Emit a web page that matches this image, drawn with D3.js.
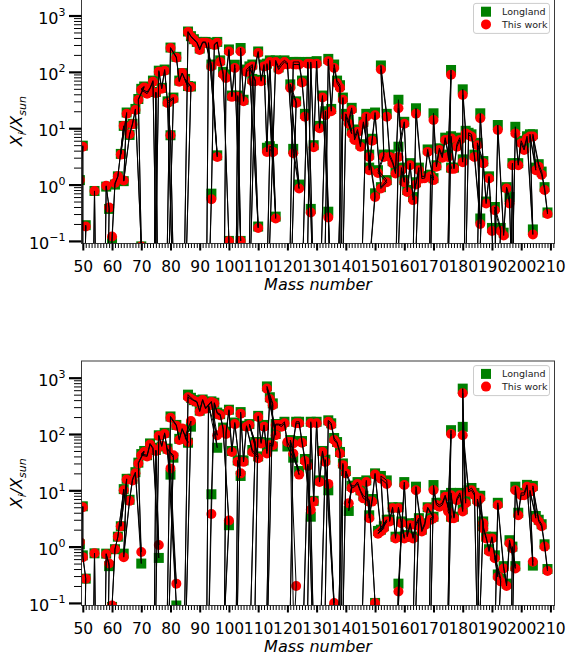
<!DOCTYPE html>
<html><head><meta charset="utf-8">
<script src="https://cdn.jsdelivr.net/npm/d3@7"></script>
<style>html,body{margin:0;padding:0;background:#fff;} svg{display:block;font-family:"DejaVu Sans",sans-serif;}</style>
</head><body><svg id="chart" width="566" height="657"></svg>
<script>
// B marks a value far below the plotted range (drawn off-axis, clipped)
const B = 1e-4;
const elements = ["Ti","V","Cr","Mn","Fe","Co","Ni","Cu","Zn","Ga","Ge","As","Se","Br","Kr","Rb","Sr","Y","Zr","Nb","Mo","Ru","Rh","Pd","Ag","Cd","In","Sn","Sb","Te","I","Xe","Cs","Ba","La","Ce","Pr","Nd","Sm","Eu","Gd","Tb","Dy","Ho","Er","Tm","Yb","Lu","Hf","Ta","W","Re","Os","Ir","Pt","Au","Hg","Tl","Pb","Bi"];
const massNumbers = [[49,50],[50,51],[50,52,53,54],[55],[54,56,57,58],[59],[58,60,61,62,64],[63,65],[64,66,67,68,70],[69,71],[70,72,73,74,76],[75],[74,76,77,78,80,82],[79,81],[78,80,82,83,84,86],[85,87],[84,86,87,88],[89],[90,91,92,94,96],[93],[92,94,95,96,97,98,100],[96,98,99,100,101,102,104],[103],[102,104,105,106,108,110],[107,109],[106,108,110,111,112,113,114,116],[113,115],[112,114,115,116,117,118,119,120,122,124],[121,123],[120,122,123,124,125,126,128,130],[127],[124,126,128,129,130,131,132,134,136],[133],[130,132,134,135,136,137,138],[138,139],[136,138,140,142],[141],[142,143,144,145,146,148,150],[144,147,148,149,150,152,154],[151,153],[152,154,155,156,157,158,160],[159],[156,158,160,161,162,163,164],[165],[162,164,166,167,168,170],[169],[168,170,171,172,173,174,176],[175,176],[174,176,177,178,179,180],[180,181],[180,182,183,184,186],[185,187],[184,186,187,188,189,190,192],[191,193],[190,192,194,195,196,198],[197],[196,198,199,200,201,202,204],[203,205],[204,206,207,208],[209]];
const upperThisWork = [[1.2,4.7],[B,0.18],[B,B,B,0.77],[B],[B,B,B,0.95],[0.39],[B,0.12,1.07,1.4,11],[3.4,18],[1.18,7.8,11.8,21,0.08],[32,53],[48,41,50,67,B],[42],[B,100,50,105,7.5,B],[28,33],[B,265,178,67,95,54],[72,54],[B,510,420,370],[330],[245,330,330,125,3.1],[320],[B,0.55,300,330,150,90,0.1],[B,B,78,230,36,117,0.1],[36],[B,230,30,100,125,0.17],[117,68],[B,68,216,68,125,3.8,150,0.25],[130,3.8],[B,4.2,3.8,150,110,130,150,135,3.6,0.85],[52,28],[B,135,135,135,65,16,0.32,B],[140],[B,B,140,4.6,140,10,35,0.26,B],[17],[B,B,155,20,117,63,52],[B,32],[B,B,16,8],[12],[21,6.2,8.7,4.7,12,3.1,0.6],[B,16,1.8,6,17,0.85,1.1],[1.6,3.1],[110,16,3.1,2.4,1.57,22.7,1.1],[1.8],[B,3.1,12,0.74,2.2,0.53,1.0],[1.8],[B,18,1.28,1.3,3.8,1.2],[1.4],[B,14,2.07,4.1,3.0,6.2,1.9],[3.1,89],[B,6.6,1.9,4.7,6.2,2.5],[39,8.1],[B,7.6,7.1,3.1,0.2],[5,2.4],[B,15,2.4,0.46,1.28,0.15,B],[0.35,0.15],[B,9.3,0.125,0.85,0.46,B],[2.2],[B,8.1,2.2,5.4,4.1,6.6,0.13],[7.1,1.8],[7.1,2.07,1.5,0.8],[0.3]];
const upperLongland = [[1.2,4.9],[B,0.19],[B,B,B,0.77],[B],[B,B,B,0.92],[0.37],[B,0.10,1.0,1.4,11],[3.5,19],[1.15,7.6,12,22,0.08],[33,55],[50,44,52,70,B],[44],[B,105,52,110,7.5,B],[30,35],[B,270,185,70,95,56],[75,55],[B,520,430,380],[340],[260,340,340,135,3.3],[330],[B,0.69,310,340,160,100,0.1],[B,B,90,250,38,134,0.1],[38],[B,265,32,110,135,0.18],[125,72],[B,75,230,72,135,4.5,160,0.27],[140,4.2],[B,4.8,4.3,160,120,145,160,145,4.3,1.0],[60,30],[B,150,150,150,70,18,0.37,B],[150],[B,B,150,5.0,155,11,38,0.33,B],[20],[B,B,170,22,135,70,58],[B,35],[B,B,18,9],[14],[23,7,9.5,5.2,13,3.4,0.7],[B,18,2.0,6.5,19,0.9,1.2],[1.8,3.4],[130,18,3.4,2.6,1.7,32,1.2],[2.0],[B,4.7,13,0.8,2.4,0.6,1.1],[2.0],[B,22.6,1.4,1.4,4.2,1.3],[1.5],[B,18.4,2.2,4.4,3.3,6.8,2.0],[3.4,108],[B,7.2,2.0,5.2,6.8,2.8],[49,9],[B,8.3,7.8,3.4,0.25],[5.5,2.6],[B,18.4,2.6,0.5,1.4,0.17,B],[0.4,0.17],[B,11.4,0.14,0.9,0.6,B],[2.4],[B,10.6,2.4,6,4.5,7.2,0.16],[7.8,2.0],[7.8,2.3,1.7,0.9],[0.32]];
const lowerThisWork = [[1.2,5.0],[0.65,0.27],[B,B,B,0.76],[B],[B,B,B,0.73],[0.5],[B,0.09,0.9,1.5,10],[2.3,15.6],[0.65,6.5,15,20,0.8],[30,48],[42,40,65,55,1.07],[50],[B,92,62,100,24.5,0.22],[52,42],[B,195,140,78,125,72],[90,170],[B,450,420,390],[370],[250,400,280,370,95],[320],[B,3.8,350,230,215,120,2.9],[B,B,100,260,48,150,20],[32],[B,230,32,135,48,37],[145,68],[B,B,200,68,135,45,420,95],[640,325],[B,63,63,145,145,135,155,72,45,19],[72,0.2],[B,68,155,155,70,33,4.5,B],[27],[B,B,155,6.3,155,14,48,13,0.1],[32],[B,B,165,145,78,68,45],[B,28],[B,B,20,11],[5.9],[11,11.5,13,9.5,7.2,6.3,0.1],[B,14,3.2,6.3,19,1.85,2.8],[1.7,2.1],[16,13,2.8,4.8,1.4,4.8,1.4],[2.6],[B,0.16,12.4,1.5,2.4,1.4,2.4],[3.0],[B,10,1.85,2.4,4.8,3.2],[3.0],[B,10,5.5,5.1,5.5,7.7,3.2],[4.2,100],[B,8.2,3.2,6.7,8.2,4.2],[530,5.9],[95,9.4,10,8.2,B],[6.3,2.6],[B,7.2,2.1,1.4,0.82,1.4,0.29],[0.62,0.24],[B,5.5,0.41,0.2,1.15,0.41],[0.93],[B,10,3.6,8.2,8.2,11.6,0.54],[9.4,3.2],[11,2.8,2.3,1.0],[0.37]];
const lowerLongland = [[1.1,5.2],[0.7,0.27],[B,B,B,0.76],[B],[B,B,B,0.75],[0.45],[B,0.085,0.9,1.5,10.5],[2.3,16],[0.75,6.8,16,21,0.5],[31,50],[44,42,68,57,0.63],[52],[B,95,60,105,19,0.09],[55,38],[B,205,145,82,120,70],[85,135],[B,500,440,400],[380],[260,410,290,380,57],[330],[B,8.5,360,240,225,130,2.4],[B,B,110,270,50,160,18],[34],[B,245,34,140,52,40],[150,72],[B,B,210,72,145,50,450,100],[700,350],[B,70,60,150,150,145,165,60,38,22],[78,B],[B,75,165,165,75,36,3.4,B],[29],[B,B,165,6.5,165,15,50,10,0.08],[35],[B,B,175,155,85,72,48],[B,30],[B,B,22,12],[4.3],[12,12,14,10,8,6.8,0.1],[B,15,3.6,7,20,2.0,3.0],[1.9,2.3],[18,15,3.0,5.0,1.5,5.0,1.5],[2.8],[B,0.22,14,1.6,2.6,1.5,2.6],[3.2],[B,11.6,2.0,2.6,5.0,3.4],[3.2],[B,12.4,6,5.5,6,8.2,3.4],[5.0,117],[B,9,3.4,7.2,9,4.6],[640,6.5],[134,10,11,9,B],[7,2.8],[B,8,2.3,1.5,0.9,1.5,0.32],[0.7,0.27],[B,6,0.45,0.22,1.3,0.45],[1.0],[B,11.6,4.0,9,9,12.5,0.46],[10,3.5],[12,3.0,2.5,1.1],[0.4]];
const xTickValues = [50,60,70,80,90,100,110,120,130,140,150,160,170,180,190,200,210];
const yTickValues = [0.1,1,10,100,1000];
const yTickExponents = ["\u22121","0","1","2","3"];
const legendLabels = ["Longland","This work"];
const seriesColors = ["#008000","#ff0000"];
const xTitle = "Mass number";

// consistency check
[upperThisWork,upperLongland,lowerThisWork,lowerLongland].forEach((arr,k)=>{
  if(arr.length!==massNumbers.length) throw new Error("length mismatch array "+k+": "+arr.length+" vs "+massNumbers.length);
  arr.forEach((g,i)=>{ if(g.length!==massNumbers[i].length) throw new Error("group mismatch array "+k+" element "+elements[i]); });
});
const flatMass = massNumbers.flat();

const svg = d3.select("#chart");
svg.append("rect").attr("width",566).attr("height",657).attr("fill","#fff");
const left = 81.5, right = 554.5;
const x = d3.scaleLinear().domain([49.55, 211.4]).range([left, right]);

const panels = [
  {top:-1.2, bottom:243.5, tw:upperThisWork, lg:upperLongland, id:"u"},
  {top:361, bottom:605.5, tw:lowerThisWork, lg:lowerLongland, id:"l"}
];

const minorY = [];
for (let e=-2;e<=3;e++) for (let k=2;k<=9;k++){ const v=k*Math.pow(10,e); if(v>0.09 && v<1980) minorY.push(v); }
const minorX = d3.range(50, 212, 1);

panels.forEach(p=>{
  const y = d3.scaleLog().domain([0.09, 1980]).range([p.bottom, p.top]);
  const clipId = "clip-"+p.id;
  svg.append("clipPath").attr("id", clipId).append("rect")
    .attr("x", left).attr("y", p.top).attr("width", right-left).attr("height", p.bottom-p.top);
  const lgPts = p.lg.flat().map((v,i)=>({A:flatMass[i], v}));
  const twPts = p.tw.flat().map((v,i)=>({A:flatMass[i], v}));
  const plot = svg.append("g").attr("clip-path", `url(#${clipId})`);
  plot.append("g").selectAll("rect").data(lgPts).join("rect")
    .attr("x", d=>x(d.A)-5).attr("y", d=>y(d.v)-5).attr("width",10).attr("height",10)
    .attr("fill", seriesColors[0]);
  plot.append("g").selectAll("circle").data(twPts).join("circle")
    .attr("cx", d=>x(d.A)).attr("cy", d=>y(d.v)).attr("r",5).attr("fill", seriesColors[1]);
  const line = d3.line().x(d=>x(d.A)).y(d=>y(d.v));
  plot.append("path").attr("d", line(lgPts)).attr("fill","none").attr("stroke","#000").attr("stroke-width",1);
  plot.append("path").attr("d", line(twPts)).attr("fill","none").attr("stroke","#000").attr("stroke-width",1);

  // frame
  svg.append("rect").attr("x",left).attr("y",p.top).attr("width",right-left).attr("height",p.bottom-p.top)
    .attr("fill","none").attr("stroke","#3a3a3a").attr("stroke-width",1);

  // x minor
  const xmin = svg.append("g").attr("transform",`translate(0,${p.bottom})`)
    .call(d3.axisBottom(x).tickValues(minorX).tickSize(4.5).tickFormat(""));
  xmin.select(".domain").remove();
  xmin.selectAll("line").attr("stroke","#000").attr("stroke-width",1);
  // x major
  const xmaj = svg.append("g").attr("transform",`translate(0,${p.bottom})`)
    .call(d3.axisBottom(x).tickValues(xTickValues).tickSize(7).tickFormat(d3.format("d")));
  xmaj.select(".domain").remove();
  xmaj.selectAll("line").attr("stroke","#000").attr("stroke-width",2);
  xmaj.selectAll("text").attr("y",28.4).attr("dy",null).attr("fill","#000")
    .style("font-family","DejaVu Sans").style("font-size","15.5px");

  // y minor
  const ymin = svg.append("g").attr("transform",`translate(${left},0)`)
    .call(d3.axisLeft(y).tickValues(minorY).tickSize(7.5).tickFormat(""));
  ymin.select(".domain").remove();
  ymin.selectAll("line").attr("stroke","#000").attr("stroke-width",1);
  // y major
  const ymaj = svg.append("g").attr("transform",`translate(${left},0)`)
    .call(d3.axisLeft(y).tickValues(yTickValues).tickSize(12.5));
  ymaj.select(".domain").remove();
  ymaj.selectAll("line").attr("stroke","#000").attr("stroke-width",2.2);
  ymaj.selectAll("text").each(function(d,i){
    const t = d3.select(this);
    t.text(null).attr("x",-16).attr("y",7.7).attr("dy",null).attr("fill","#000")
      .attr("text-anchor","end").style("font-family","DejaVu Sans").style("font-size","16px");
    t.append("tspan").text("10");
    t.append("tspan").attr("dy",-7.7).style("font-size","11px").text(yTickExponents[yTickValues.indexOf(d)]);
  });

  // y title
  const cy = (p.top+p.bottom)/2;
  const yt = svg.append("text").attr("transform",`translate(22,${cy}) rotate(-90)`)
    .attr("text-anchor","middle").style("font-family","DejaVu Sans").style("font-style","italic")
    .style("font-size","16px").attr("fill","#000");
  yt.append("tspan").text("X");
  yt.append("tspan").attr("dy",3.5).style("font-size","11px").text("i");
  yt.append("tspan").attr("dy",-3.5).text("/X");
  yt.append("tspan").attr("dy",3.5).style("font-size","11px").text("sun");

  // x title
  svg.append("text").attr("x",(left+right)/2).attr("y",p.bottom+46.5).attr("text-anchor","middle")
    .style("font-family","DejaVu Sans").style("font-style","italic").style("font-size","16px")
    .attr("fill","#000").text(xTitle);

  // legend
  const lt = p.top + 4.6;
  const lg = svg.append("g");
  lg.append("rect").attr("x",473.5).attr("y",lt).attr("width",76).attr("height",30).attr("rx",2.5)
    .attr("fill","#fff").attr("fill-opacity",0.8).attr("stroke","#cccccc").attr("stroke-width",1);
  lg.append("rect").attr("x",481).attr("y",lt+8.3-5).attr("width",10).attr("height",10).attr("fill",seriesColors[0]);
  lg.append("circle").attr("cx",486).attr("cy",lt+21).attr("r",5).attr("fill",seriesColors[1]);
  legendLabels.forEach((s,i)=>{
    lg.append("text").attr("x",502).attr("y",lt+8.3+3.4+i*12.7)
      .style("font-family","DejaVu Sans").style("font-size","9.5px").attr("fill","#222").text(s);
  });
});
</script></body></html>
